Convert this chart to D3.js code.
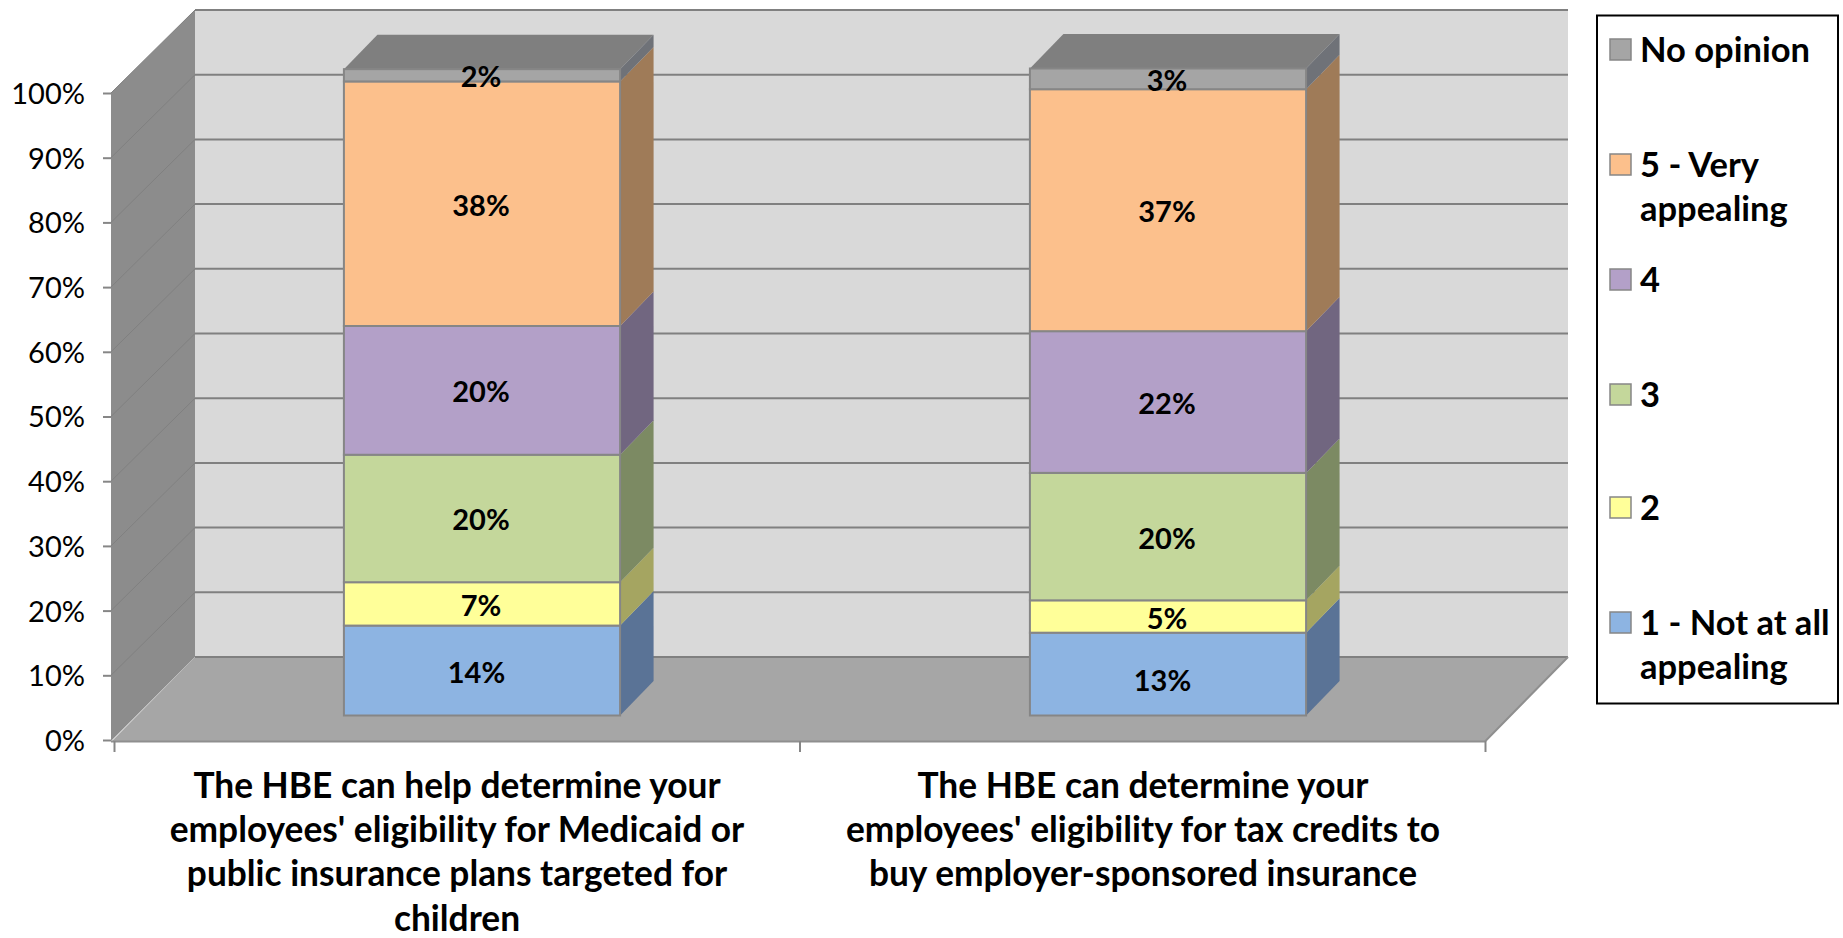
<!DOCTYPE html>
<html>
<head>
<meta charset="utf-8">
<script src="https://cdn.jsdelivr.net/npm/d3@7"></script>
<style>
  body { margin: 0; background: #fff; }
  text { font-family: Lato, "Open Sans", sans-serif; fill: #000; }
</style>
</head>
<body>
<div id="chart"></div>
<script>
// Data
const categories = ["hbe_medicaid", "hbe_tax_credits"];
const categoryLines = [
  ["The HBE can help determine your", "employees' eligibility for Medicaid or", "public insurance plans targeted for", "children"],
  ["The HBE can determine your", "employees' eligibility for tax credits to", "buy employer-sponsored insurance"]
];
const seriesKeys = ["one", "two", "three", "four", "five", "none"];
const seriesLabels = [["1 - Not at all", "appealing"], ["2"], ["3"], ["4"], ["5 - Very", "appealing"], ["No opinion"]];
const notAppealing = [13.9, 12.8];
const two = [6.7, 5.0];
const three = [19.7, 19.7];
const four = [19.9, 21.9];
const veryAppealing = [37.8, 37.4];
const noOpinion = [1.9, 3.2];
const yTicks = [0, 10, 20, 30, 40, 50, 60, 70, 80, 90, 100];

const frontColors = ["#8DB4E2", "#FFFF99", "#C4D79B", "#B3A0C8", "#FCC08C", "#A5A5A5"];
const sideColors = ["#5A7396", "#A5A561", "#7C8A63", "#716680", "#9F7B58", "#6F7278"];
const legendBaselines = [[634.5, 678.5], [519.5], [406.5], [291.5], [176.5, 220.5], [61.5]];

const W = 1843, H = 938;
const svg = d3.select("#chart").append("svg")
  .attr("width", W).attr("height", H)
  .style("display", "block");

// front plane scales, the back wall sits wallDepth up and to the right
const wallDepth = 83;
const x = d3.scaleBand().domain(categories).range([114, 1486]);
const y = d3.scaleLinear().domain([0, 100]).range([740, 93]);
const line = d3.line();
const gridColor = "#808080";

// left wall
svg.append("path")
  .attr("d", line([[111, y(100)], [195, y(100) - wallDepth], [195, y(0) - wallDepth], [111, y(0) + 1]]) + "Z")
  .attr("fill", "#8C8C8C");

// back wall
svg.append("path")
  .attr("d", line([[195, y(100) - wallDepth], [1568, y(100) - wallDepth], [1568, y(0) - wallDepth], [195, y(0) - wallDepth]]) + "Z")
  .attr("fill", "#D9D9D9");

// floor
svg.append("path")
  .attr("d", line([[111, y(0) + 2], [195, y(0) - wallDepth], [1568, y(0) - wallDepth], [1485, y(0) + 2]]) + "Z")
  .attr("fill", "#A6A6A6");

// gridlines
svg.append("g").selectAll("line").data(yTicks).enter().append("line")
  .attr("x1", 195)
  .attr("x2", 1568)
  .attr("y1", d => y(d) - wallDepth)
  .attr("y2", d => y(d) - wallDepth)
  .attr("stroke", gridColor)
  .attr("stroke-width", 2);

svg.append("g").selectAll("line").data(yTicks.slice(1)).enter().append("line")
  .attr("x1", 111)
  .attr("x2", 195)
  .attr("y1", d => y(d))
  .attr("y2", d => y(d) - wallDepth)
  .attr("stroke", "#808080")
  .attr("stroke-width", 1);

// floor edges
svg.append("path")
  .attr("d", line([[111, y(0) + 1.5], [1485, y(0) + 1.5], [1568, y(0) - wallDepth]]))
  .attr("fill", "none")
  .attr("stroke", "#8F8F8F")
  .attr("stroke-width", 2);

// y axis
const yAxis = svg.append("g")
  .attr("transform", "translate(111,0)")
  .call(d3.axisLeft(y).tickValues(yTicks).tickFormat(d => d + "%").tickSize(8).tickPadding(18));
yAxis.select(".domain").remove();
yAxis.selectAll("line").attr("stroke", "#868686").attr("stroke-width", 2);
yAxis.selectAll("text").style("font-size", "29px").style("font-family", "Lato").attr("dy", "0.36em");

// x axis ticks only, the labels are wrapped by hand below
const xTicks = d3.scaleLinear().domain([0, 2]).range([114, 1485]);
const xAxis = svg.append("g")
  .attr("transform", `translate(0,${y(0) + 1})`)
  .call(d3.axisBottom(xTicks).tickValues([0, 1, 2]).tickFormat("").tickSize(11));
xAxis.select(".domain").remove();
xAxis.selectAll("line").attr("stroke", "#868686").attr("stroke-width", 2);

// stacked bars
const rows = categories.map((c, i) => ({
  category: c,
  one: notAppealing[i], two: two[i], three: three[i],
  four: four[i], five: veryAppealing[i], none: noOpinion[i]
}));
const stacked = d3.stack().keys(seriesKeys)(rows);

const barWidth = x.bandwidth() * 0.4026;
const barShift = 25;    // x offset of the bar front from the front plane
const barLift = 24.5;   // same for y
const barDepthX = 33.5, barDepthY = 34.5;
const barLeft = d => x(d.data.category) + x.bandwidth() / 2 + barShift - barWidth / 2;
const barY = v => y(v) - barLift;

// top of the stack, before the layers so the 2% label stays on top of it
svg.append("g").selectAll("path").data(stacked[stacked.length - 1]).enter().append("path")
  .attr("d", d => {
    const l = barLeft(d), t = barY(d[1]);
    return line([[l, t], [l + barDepthX, t - barDepthY], [l + barWidth + barDepthX, t - barDepthY], [l + barWidth, t]]) + "Z";
  })
  .attr("fill", "#7F7F7F");

const layers = svg.append("g").selectAll("g").data(stacked).enter().append("g");

// side faces
layers.selectAll(".side").data(s => s).enter().append("path")
  .attr("class", "side")
  .attr("d", d => {
    const r = barLeft(d) + barWidth;
    return line([[r, barY(d[0])], [r + barDepthX, barY(d[0]) - barDepthY], [r + barDepthX, barY(d[1]) - barDepthY], [r, barY(d[1])]]) + "Z";
  })
  .attr("fill", function() { return sideColors[seriesKeys.indexOf(d3.select(this.parentNode).datum().key)]; });

// front faces
layers.selectAll(".front").data(s => s).enter().append("rect")
  .attr("class", "front")
  .attr("x", barLeft)
  .attr("y", d => barY(d[1]))
  .attr("width", barWidth)
  .attr("height", d => barY(d[0]) - barY(d[1]))
  .attr("fill", function() { return frontColors[seriesKeys.indexOf(d3.select(this.parentNode).datum().key)]; })
  .attr("stroke", "#868686")
  .attr("stroke-width", 2);

// value labels, the bottom series sits a little off centre in the original
layers.selectAll(".val").data(s => s).enter().append("text")
  .attr("class", "val")
  .attr("x", function(d) {
    const first = d3.select(this.parentNode).datum().key === "one";
    return barLeft(d) + barWidth / 2 + (first ? -4.5 : 0) - 1;
  })
  .attr("y", function(d) {
    const first = d3.select(this.parentNode).datum().key === "one";
    const low = first && d.data.category === categories[1];
    return (barY(d[0]) + barY(d[1])) / 2 + 12 + (low ? 5 : 0);
  })
  .attr("text-anchor", "middle")
  .style("font-size", "29px")
  .style("font-weight", 700)
  .text(d => d3.format(".0f")(d[1] - d[0]) + "%");

// category labels
const catLabels = svg.append("g").selectAll("text").data(categories).enter().append("text")
  .attr("text-anchor", "middle")
  .style("font-size", "35.3px")
  .style("font-weight", 700);
catLabels.selectAll("tspan").data((d, i) => categoryLines[i]).enter().append("tspan")
  .attr("x", function() { return x(d3.select(this.parentNode).datum()) + x.bandwidth() / 2; })
  .attr("y", (d, i) => 798 + i * 44.2)
  .text(d => d);

// legend
svg.append("rect")
  .attr("x", 1597).attr("y", 15.5)
  .attr("width", 241).attr("height", 688)
  .attr("fill", "#fff")
  .attr("stroke", "#000")
  .attr("stroke-width", 2);

const legend = svg.append("g").selectAll("g").data(seriesKeys).enter().append("g");
legend.append("rect")
  .attr("x", 1610)
  .attr("y", (d, i) => legendBaselines[i][0] - 22.5)
  .attr("width", 21)
  .attr("height", 21)
  .attr("fill", (d, i) => frontColors[i])
  .attr("stroke", "#868686")
  .attr("stroke-width", 1.5);
legend.each(function(d, i) {
  d3.select(this).selectAll("text").data(seriesLabels[i]).enter().append("text")
    .attr("x", 1640)
    .attr("y", (t, j) => legendBaselines[i][j])
    .style("font-size", "34.5px")
    .style("font-weight", 700)
    .text(t => t);
});
</script>
</body>
</html>
